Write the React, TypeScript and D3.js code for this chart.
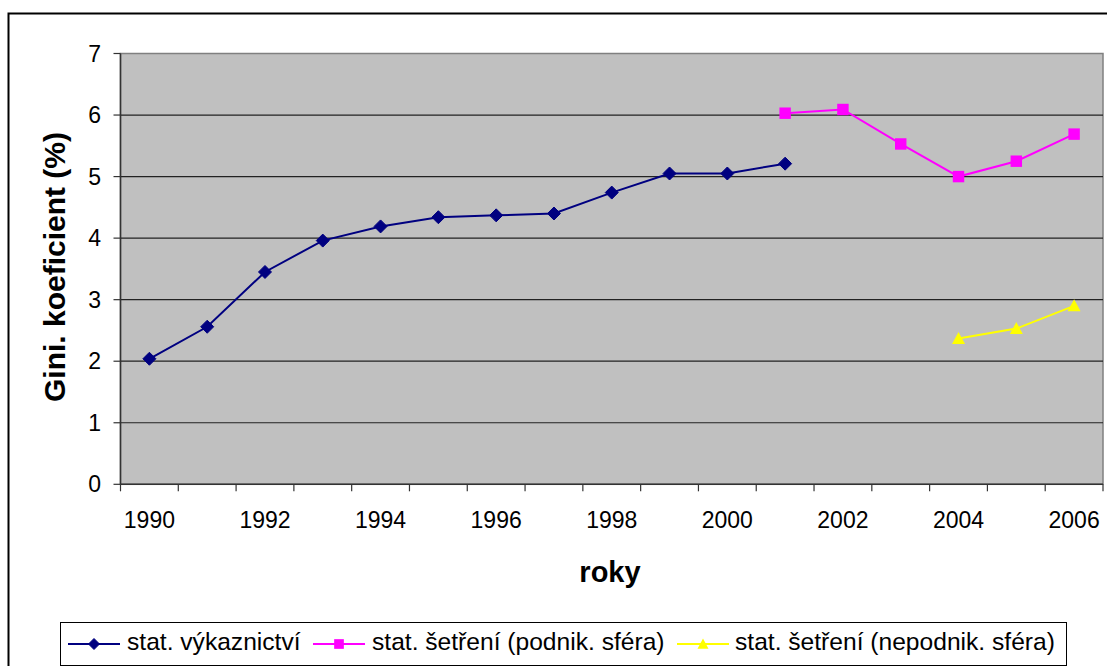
import React from "react";
import * as d3 from "d3";

const years = ["1990","1991","1992","1993","1994","1995","1996","1997","1998","1999","2000","2001","2002","2003","2004","2005","2006"];
const tickLabelYears = ["1990","1992","1994","1996","1998","2000","2002","2004","2006"];
const yTicks = [0,1,2,3,4,5,6,7];

const vykaznictviYears = ["1990","1991","1992","1993","1994","1995","1996","1997","1998","1999","2000","2001"];
const vykaznictviValues = [2.04,2.56,3.45,3.96,4.19,4.34,4.37,4.40,4.74,5.05,5.05,5.21];

const podnikYears = ["2001","2002","2003","2004","2005","2006"];
const podnikValues = [6.03,6.09,5.53,5.00,5.25,5.69];

const nepodnikYears = ["2004","2005","2006"];
const nepodnikValues = [2.37,2.53,2.90];

const seriesNames = ["stat. výkaznictví","stat. šetření (podnik. sféra)","stat. šetření (nepodnik. sféra)"];
const seriesColors = ["#000080","#FF00FF","#FFFF00"];
const seriesShapes = ["diamond","square","triangle"];

const xTitle = "roky";
const yTitle = "Gini. koeficient (%)";

const FONT = "'Liberation Sans', Arial, Helvetica, sans-serif";

function marker(shape: string, cx: number, cy: number, size: number, color: string, key?: string) {
  const h = size / 2;
  if (shape === "diamond") {
    return <path key={key} d={`M${cx},${cy - h}L${cx + h},${cy}L${cx},${cy + h}L${cx - h},${cy}Z`} fill={color} stroke={color} strokeWidth={1} />;
  }
  if (shape === "square") {
    const s = size * 0.88;
    return <rect key={key} x={cx - s / 2} y={cy - s / 2} width={s} height={s} fill={color} />;
  }
  return <path key={key} d={`M${cx},${cy - h}L${cx + h},${cy + h * 0.85}L${cx - h},${cy + h * 0.85}Z`} fill={color} />;
}

export default function App() {
  const W = 1107, H = 666;
  const left = 120.5, right = 1103, top = 53.5, bottom = 484.3;

  const x = d3.scaleBand<string>().domain(years).range([left, right]).padding(0);
  const y = d3.scaleLinear().domain([0, 7]).range([bottom, top]);
  const cx = (yr: string) => (x(yr) as number) + x.bandwidth() / 2;

  const line = d3.line<[string, number]>().x(d => cx(d[0])).y(d => y(d[1]));

  const series = [
    { years: vykaznictviYears, values: vykaznictviValues },
    { years: podnikYears, values: podnikValues },
    { years: nepodnikYears, values: nepodnikValues },
  ];

  const boundaries = years.map(yr => x(yr) as number).concat([right]);

  const legendItems = [
    { lineX: 68, textX: 127 },
    { lineX: 313, textX: 372 },
    { lineX: 677, textX: 735 },
  ];
  const legendY = 644;

  return (
    <svg width={W} height={H} style={{ position: "absolute", left: 0, top: 0, background: "#fff" }} fontFamily={FONT}>
      <rect x={0} y={0} width={W} height={H} fill="#fff" />
      {/* outer chart border */}
      <rect x={8.5} y={13.5} width={1120} height={700} fill="none" stroke="#000" strokeWidth={2} />

      {/* plot area */}
      <rect x={left} y={top} width={right - left} height={bottom - top} fill="#C0C0C0" stroke="#808080" strokeWidth={1.5} />

      {/* gridlines */}
      {yTicks.filter(t => t > 0 && t < 7).map(t => (
        <line key={"g" + t} x1={left} x2={right} y1={y(t)} y2={y(t)} stroke="#222" strokeWidth={1.2} />
      ))}

      {/* y axis */}
      <line x1={left} x2={left} y1={top} y2={bottom} stroke="#333" strokeWidth={1.5} />
      {yTicks.map(t => (
        <g key={"yt" + t}>
          <line x1={left - 7} x2={left} y1={y(t)} y2={y(t)} stroke="#333" strokeWidth={1.2} />
          <text x={101} y={y(t) + 8} textAnchor="end" fontSize={23} fill="#000">{t}</text>
        </g>
      ))}

      {/* x axis */}
      <line x1={left} x2={right} y1={bottom} y2={bottom} stroke="#333" strokeWidth={1.5} />
      {boundaries.map((bx, i) => (
        <line key={"xt" + i} x1={bx} x2={bx} y1={bottom} y2={bottom + 7} stroke="#333" strokeWidth={1.2} />
      ))}
      {tickLabelYears.map(yr => (
        <text key={"xl" + yr} x={cx(yr)} y={528} textAnchor="middle" fontSize={23} fill="#000">{yr}</text>
      ))}

      {/* axis titles */}
      <text x={610} y={582} textAnchor="middle" fontSize={29} fontWeight="bold" fill="#000">{xTitle}</text>
      <text transform={`translate(65,267) rotate(-90)`} textAnchor="middle" fontSize={30} fontWeight="bold" fill="#000">{yTitle}</text>

      {/* series */}
      {series.map((s, i) => {
        const pts = s.years.map((yr, j) => [yr, s.values[j]] as [string, number]);
        return (
          <g key={"s" + i}>
            <path d={line(pts) || ""} fill="none" stroke={seriesColors[i]} strokeWidth={2} />
            {pts.map((p, j) => marker(seriesShapes[i], cx(p[0]), y(p[1]), 13, seriesColors[i], `m${i}-${j}`))}
          </g>
        );
      })}

      {/* legend */}
      <rect x={60.5} y={622.5} width={1006} height={43} fill="#fff" stroke="#000" strokeWidth={1} />
      {legendItems.map((it, i) => (
        <g key={"l" + i}>
          <line x1={it.lineX} x2={it.lineX + 52} y1={legendY} y2={legendY} stroke={seriesColors[i]} strokeWidth={2} />
          {marker(seriesShapes[i], it.lineX + 26, legendY, 11, seriesColors[i])}
          <text x={it.textX} y={legendY + 6} fontSize={24.6} fill="#000">{seriesNames[i]}</text>
        </g>
      ))}
    </svg>
  );
}
